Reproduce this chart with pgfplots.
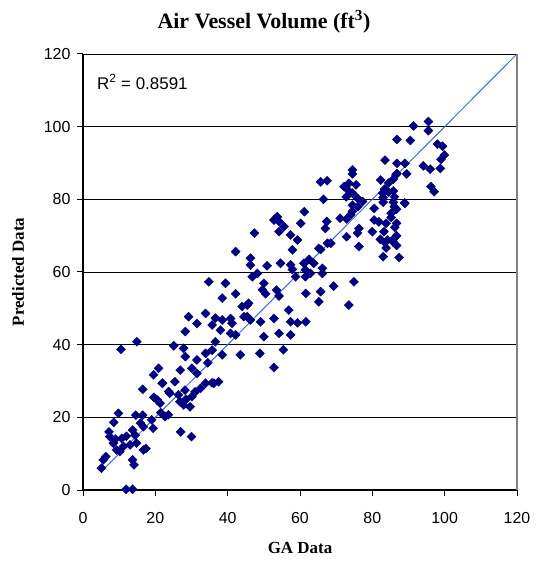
\documentclass[border=0pt]{standalone}
\usepackage{fontspec}
\setmainfont{Liberation Sans}
\newfontfamily\serifb{Liberation Serif}
\usepackage{pgfplots}
\usepackage{pgfplotstable}
\pgfplotsset{compat=1.18}
\definecolor{navy}{RGB}{0,0,128}
\definecolor{fitblue}{RGB}{65,105,230}

% GA data vs predicted data
\pgfplotstableread{
x y
5.1 6.0
5.6 8.3
6.3 9.2
7.2 16.0
7.4 14.7
8.4 12.9
8.5 18.6
9.0 14.0
9.3 11.0
9.8 21.1
10.2 10.6
10.7 14.2
10.5 38.7
11.2 12.0
11.9 0.2
12.0 14.8
13.7 0.2
13.0 12.4
13.7 8.3
14.1 6.9
13.7 16.5
14.4 15.1
14.6 20.6
14.8 12.9
14.9 40.8
15.9 18.4
16.5 20.6
16.5 27.7
16.7 17.4
16.7 11.0
17.4 11.4
19.0 19.3
19.4 17.0
19.6 25.5
19.5 31.7
20.5 24.8
20.9 33.5
21.3 23.9
21.5 21.3
22.0 29.4
22.7 20.2
23.6 20.7
23.7 27.1
24.0 26.6
25.4 29.8
26.4 26.2
26.8 24.3
27.0 16.0
27.8 23.4
28.2 27.5
21.9 29.4
25.1 39.7
27.8 39.0
28.3 36.7
28.3 43.6
29.2 47.7
26.9 33.0
29.6 22.9
30.1 25.7
30.0 14.7
30.1 33.5
28.5 25.0
31.0 27.0
32.5 28.0
33.9 29.4
36.2 29.4
34.5 35.0
31.5 45.8
33.9 48.6
36.6 47.3
35.7 45.4
38.0 44.0
36.6 40.8
35.7 38.5
33.9 37.6
38.5 37.2
31.5 35.8
31.5 32.1
37.5 29.8
35.7 29.5
34.8 57.3
39.4 56.9
38.5 52.8
38.5 46.8
40.8 47.2
41.2 45.9
40.8 43.1
45.4 47.7
45.4 50.9
43.5 37.2
47.4 70.7
42.2 65.6
46.3 63.8
46.3 61.9
48.2 59.6
46.8 58.7
42.2 54.0
50.0 56.9
49.6 55.1
50.5 54.0
45.8 51.4
44.0 50.5
44.5 47.7
46.3 46.8
49.1 46.3
48.9 37.6
42.2 42.7
50.0 42.2
50.9 61.7
54.6 62.4
57.4 62.0
57.9 60.7
53.5 55.0
54.2 53.4
52.8 47.2
57.4 46.3
57.4 42.7
56.9 49.5
59.3 46.0
55.4 38.6
52.8 33.7
54.2 71.1
57.4 70.2
59.3 68.8
57.9 66.1
58.8 58.7
54.2 43.1
53.7 75.2
52.8 74.3
54.2 73.9
55.6 72.5
61.1 62.4
62.5 63.5
63.8 62.4
65.2 66.5
67.6 67.9
61.5 58.7
61.6 54.1
65.7 54.6
65.2 51.8
61.6 46.3
61.2 76.6
60.2 73.4
67.4 73.9
67.0 72.0
65.7 84.8
67.5 85.1
66.5 80.0
66.2 59.6
69.3 56.1
65.7 66.2
68.5 67.9
66.2 61.0
61.5 60.6
62.9 59.6
74.5 88.1
74.5 87.0
73.5 84.4
72.2 83.5
75.5 84.0
74.5 81.7
75.9 80.3
77.3 79.4
74.5 78.4
71.1 74.8
72.9 74.6
76.3 72.0
75.9 70.7
72.9 69.7
76.3 67.0
74.9 57.3
73.5 50.9
73.6 82.2
72.8 80.7
76.0 78.0
74.5 76.7
74.0 75.8
80.5 77.5
83.5 90.8
82.3 85.3
84.5 84.5
86.5 86.7
82.8 81.7
84.5 82.0
86.1 80.7
86.1 78.0
85.2 76.2
85.2 75.0
80.5 74.3
81.8 73.8
83.8 73.4
86.7 73.4
80.0 71.1
83.2 71.1
84.2 68.8
86.0 69.2
83.8 66.6
83.0 64.2
87.4 64.0
86.8 96.5
90.5 96.2
86.8 89.9
89.0 89.9
89.5 87.0
86.8 87.1
85.8 85.5
85.8 82.3
85.8 79.2
86.7 77.3
86.2 72.3
86.7 70.0
85.8 68.2
83.4 82.8
83.0 80.5
83.0 79.2
88.9 79.0
82.2 69.0
83.5 68.1
86.7 67.3
91.4 100.2
95.5 101.4
95.5 98.9
98.0 95.2
99.4 94.6
99.9 92.2
99.0 91.0
98.8 88.5
94.1 89.2
96.0 88.3
96.2 83.5
97.1 82.1
89.0 78.9
}\gadata

\begin{document}
\begin{tikzpicture}
\begin{axis}[
    scale only axis,
    width=434bp, height=436bp,
    xmin=0, xmax=120, ymin=0, ymax=120,
    xtick={0,20,...,120}, ytick={0,20,...,120},
    axis x line*=bottom, axis y line*=left,
    ymajorgrids,
    major grid style={black, line width=0.8bp},
    axis line style={black, line width=1.2bp},
    tick style={black, line width=1bp},
    tick align=outside,
    major tick length=6bp,
    /pgf/number format/assume math mode=true,
    tick label style={font=\fontsize{16}{18}\selectfont},
    xticklabel style={yshift=-13bp},
    yticklabel style={xshift=-3bp},
    clip=false,
]
\addplot[only marks, mark=square*, mark size=3.2bp,
    mark options={rotate=45, fill=navy, draw=navy}] table {\gadata};
\addplot[fitblue, line width=1bp] coordinates {(5,5) (120,120)};
\draw[gray, line width=1.2bp] (axis cs:120,0) -- (axis cs:120,120);
\coordinate (bl) at (rel axis cs:0,0);
\coordinate (tr) at (rel axis cs:1,1);
\end{axis}
\node[font=\serifb\bfseries\fontsize{22}{25}\selectfont] at ([xshift=181bp,yshift=468bp]bl)
    {Air Vessel Volume (ft\textsuperscript{3})};
\node[font=\serifb\bfseries\fontsize{17}{20}\selectfont] at ([xshift=217bp,yshift=-58bp]bl) {GA Data};
\node[rotate=90, font=\serifb\bfseries\fontsize{17}{20}\selectfont] at ([xshift=-65bp,yshift=218bp]bl) {Predicted Data};
\node[anchor=west, inner sep=0pt, font=\fontsize{17}{20}\selectfont] at ([xshift=14bp,yshift=408bp]bl)
    {R\textsuperscript{2} = 0.8591};
\pgfresetboundingbox
\path ([shift={(-83bp,-77bp)}]bl) rectangle ([shift={(19bp,54bp)}]tr);
\end{tikzpicture}
\end{document}
